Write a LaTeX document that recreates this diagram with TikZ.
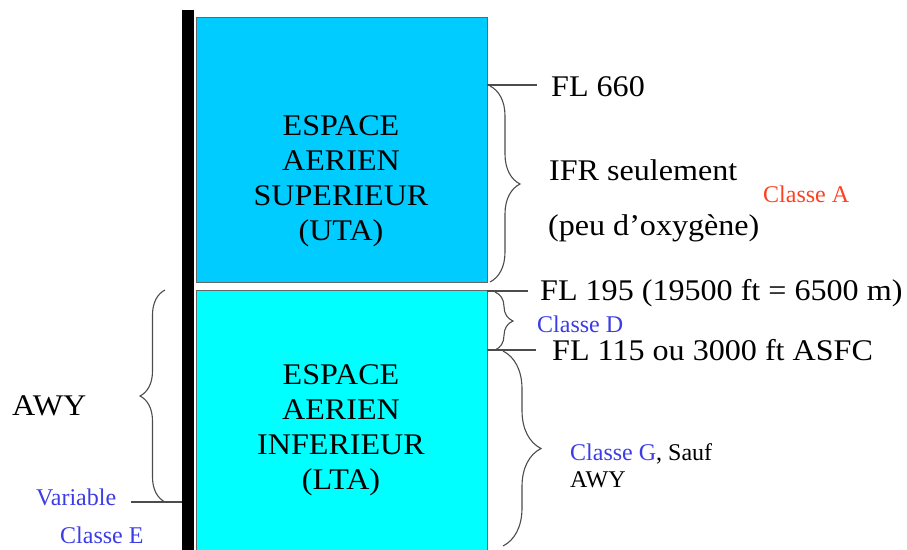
\documentclass[tikz,border=0pt]{standalone}
\usepackage{fontspec}
\setmainfont{Liberation Serif}
\usepackage{xcolor}
\usepackage{tikz}
\usetikzlibrary{decorations.pathreplacing}
\definecolor{upperblue}{HTML}{00CCFF}
\definecolor{lowercyan}{HTML}{00FFFF}
\definecolor{classblue}{HTML}{3C3CE6}
\definecolor{classred}{HTML}{FF4020}
\newcommand{\bigtxt}{\fontsize{30}{35}\selectfont\addfontfeature{FakeStretch=1.07}}
\newcommand{\smalltxt}{\fontsize{24}{27}\selectfont}

\begin{document}
\begin{tikzpicture}[x=1pt,y=-1pt,
  lvl/.style={anchor=base west,inner sep=0pt,font=\bigtxt},
  cls/.style={anchor=base west,inner sep=0pt,font=\smalltxt},
  tick/.style={draw=black!70,line width=1.2pt},
  brc/.style={draw=black!70,line width=1.1pt,decorate,decoration={brace,amplitude=#1}}]
  \useasboundingbox (0,0) rectangle (907,549);
  % Column and the two airspaces
  \fill[black] (182,10) rectangle (194,552);
  \filldraw[fill=upperblue,draw=black!60] (196,17) rectangle (487,282);
  \filldraw[fill=lowercyan,draw=black!60] (196,290) rectangle (487,552);
  \node[font=\bigtxt,align=center] (uta) at (341,181) {ESPACE\\AERIEN\\SUPERIEUR\\(UTA)};
  \node[font=\bigtxt,align=center] (lta) at (341,430) {ESPACE\\AERIEN\\INFERIEUR\\(LTA)};
  % Upper limit FL 660
  \coordinate (a660) at (487,85);
  \coordinate (b660) at (537,85);
  \draw[tick] (a660) -- (b660);
  \node[lvl] (fl660) at (551,96) {FL 660};
  \node[lvl] (ifr) at (549,180) {IFR seulement};
  \node[lvl] (oxy) at (548,235) {(peu d’oxygène)};
  \node[cls,classred] (clA) at (763,202) {Classe A};
  \draw[brc=30] (490,86) -- (490,282);
  % FL 195
  \coordinate (a195) at (487,291);
  \coordinate (b195) at (528,291);
  \draw[tick] (a195) -- (b195);
  \node[lvl] (fl195) at (540,300) {FL 195 (19500 ft = 6500 m)};
  \draw[brc=18] (495,292) -- (495,350);
  \node[cls,classblue] (clD) at (537,332) {Classe D};
  % FL 115
  \coordinate (a115) at (487,350);
  \coordinate (b115) at (536,350);
  \draw[tick] (a115) -- (b115);
  \node[lvl] (fl115) at (552,360) {FL 115 ou 3000 ft ASFC};
  \draw[brc=38] (503,351) -- (503,546);
  \node[cls,align=left] (clG) at (570,460) {\textcolor{classblue}{Classe G}, Sauf};
  \node[cls] (sauf) at (570,487) {AWY};
  % Airways on the left
  \coordinate (avar) at (182,502);
  \coordinate (bvar) at (131,502);
  \draw[tick] (avar) -- (bvar);
  \draw[brc=25] (165,502) -- (165,290);
  \node[lvl] (awy) at (12,415) {AWY};
  \node[cls,classblue] (var) at (36,505) {Variable};
  \node[cls,classblue] (clE) at (60,543) {Classe E};
\end{tikzpicture}
\end{document}
